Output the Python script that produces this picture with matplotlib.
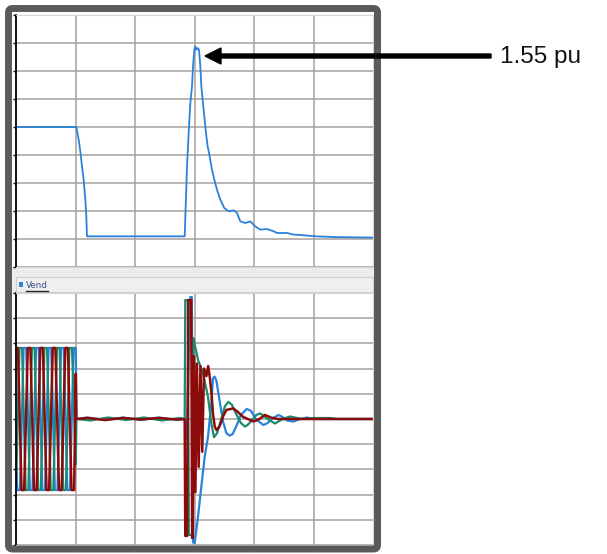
import matplotlib
matplotlib.use("Agg")
import matplotlib.pyplot as plt
from matplotlib.patches import Rectangle, FancyBboxPatch, FancyArrow
from matplotlib.transforms import Affine2D
from matplotlib.lines import Line2D

# ---------------- data ----------------
# Upper panel: RMS voltage (pu) vs time (s)
rms_t = [0.0, 0.1014, 0.1053, 0.1081, 0.1109, 0.1137, 0.1165, 0.1182, 0.1193, 0.2835,
         0.2852, 0.2874, 0.2902, 0.2930, 0.2958, 0.2975, 0.2997, 0.3014, 0.3031, 0.3053,
         0.3076, 0.3098, 0.3115, 0.3137, 0.3165, 0.3193, 0.3221, 0.3255, 0.3294, 0.3333,
         0.3378, 0.3434, 0.3501, 0.3574, 0.3658, 0.3714, 0.3770, 0.3854, 0.3938, 0.4022,
         0.4106, 0.4218, 0.4331, 0.4387, 0.4555, 0.4667, 0.4779, 0.4891, 0.5059, 0.5339, 0.6011]
rms_v = [1.0, 1.0, 0.91, 0.826, 0.719, 0.624, 0.481, 0.362, 0.219, 0.219,
         0.433, 0.719, 0.957, 1.171, 1.29, 1.433, 1.552, 1.576, 1.552, 1.564,
         1.552, 1.433, 1.29, 1.195, 1.076, 0.957, 0.862, 0.790, 0.695, 0.624,
         0.552, 0.481, 0.421, 0.398, 0.405, 0.386, 0.326, 0.314, 0.326, 0.290,
         0.267, 0.271, 0.255, 0.243, 0.243, 0.231, 0.229, 0.224, 0.219, 0.214, 0.210]

# Lower panel: instantaneous phase voltages "Vend" (pu)
blue_t = [0.0, 0.0023, 0.0067, 0.0128, 0.0172, 0.0233, 0.0277, 0.0338, 0.0382, 0.0443,
          0.0487, 0.0548, 0.0592, 0.0653, 0.0697, 0.0758, 0.0802, 0.0863, 0.0907, 0.0968,
          0.1005, 0.1015, 0.12, 0.15, 0.18, 0.21, 0.24, 0.27, 0.2835,
          0.2870, 0.2930, 0.2955, 0.2975, 0.3003, 0.3059, 0.3115, 0.3171, 0.3227, 0.3283,
          0.3311, 0.3340, 0.3370, 0.3423, 0.3480, 0.3535, 0.3590, 0.3640, 0.3700, 0.3780,
          0.3877, 0.3950, 0.4030, 0.4157, 0.4230, 0.4300, 0.4409, 0.4480, 0.4560, 0.4660,
          0.4780, 0.4890, 0.5000, 0.5110, 0.6]
blue_v = [-0.9, -1.41, -1.41, 1.41, 1.41, -1.41, -1.41, 1.41, 1.41, -1.41,
          -1.41, 1.41, 1.41, -1.41, -1.41, 1.41, 1.41, -1.41, -1.41, 1.41,
          1.41, 0.0, 0.03, -0.02, 0.03, -0.02, 0.03, -0.02, 0.0,
          -0.4, 2.42, 2.42, -2.45, -2.46, -1.94, -1.34, -0.75, -0.35, 0.31,
          0.81, 0.84, 0.75, 0.35, -0.05, -0.28, -0.33, -0.30, -0.15, 0.08,
          0.20, 0.16, 0.0, -0.12, -0.08, 0.0, 0.08, 0.04, -0.03, -0.05,
          0.0, 0.03, 0.0, 0.0, 0.0]

teal_t = [0.0, 0.0058, 0.0102, 0.0163, 0.0207, 0.0268, 0.0312, 0.0373, 0.0417, 0.0478,
          0.0522, 0.0583, 0.0627, 0.0688, 0.0732, 0.0793, 0.0837, 0.0898, 0.0942, 0.1005,
          0.1015, 0.125, 0.155, 0.185, 0.215, 0.245, 0.275, 0.2835,
          0.2845, 0.2890, 0.2905, 0.2960, 0.2985, 0.3010, 0.3059, 0.3143, 0.3227, 0.3283,
          0.3328, 0.3380, 0.3450, 0.3510, 0.3569, 0.3630, 0.3700, 0.3780, 0.3849, 0.3910,
          0.3980, 0.4040, 0.4101, 0.4170, 0.4230, 0.4353, 0.4480, 0.4605, 0.4800, 0.5000,
          0.5280, 0.5400, 0.6]
teal_v = [-1.41, 1.41, 1.41, -1.41, -1.41, 1.41, 1.41, -1.41, -1.41, 1.41,
          1.41, -1.41, -1.41, 1.41, 1.41, -1.41, -1.41, 1.41, 1.41, -0.9,
          0.0, -0.03, 0.03, -0.02, 0.03, -0.03, 0.02, 0.0,
          2.36, 2.36, -2.3, -2.3, 1.6, 1.45, 1.17, 0.91, 0.44, -0.09,
          -0.36, -0.28, 0.0, 0.25, 0.34, 0.28, 0.10, -0.08, -0.15, -0.10,
          0.0, 0.08, 0.11, 0.06, 0.0, -0.09, 0.0, 0.05, 0.0, 0.02,
          0.02, 0.0, 0.0]

red_t = [0.0, 0.0032, 0.0093, 0.0137, 0.0198, 0.0242, 0.0303, 0.0347, 0.0408, 0.0452,
         0.0513, 0.0557, 0.0618, 0.0662, 0.0723, 0.0767, 0.0828, 0.0872, 0.0933, 0.0977,
         0.1005, 0.1015, 0.12, 0.15, 0.18, 0.21, 0.24, 0.27, 0.2835,
         0.2845, 0.2875, 0.2895, 0.2945, 0.2960, 0.2970, 0.2990, 0.3015, 0.3040, 0.3070,
         0.3100, 0.3130, 0.3160, 0.3200, 0.3230, 0.3260, 0.3290, 0.3310, 0.3340, 0.3370,
         0.3420, 0.3480, 0.3535, 0.3650, 0.3720, 0.3820, 0.3990, 0.4090, 0.4185, 0.4280,
         0.4400, 0.6]
red_v = [1.41, 1.41, -1.41, -1.41, 1.41, 1.41, -1.41, -1.41, 1.41, 1.41,
         -1.41, -1.41, 1.41, 1.41, -1.41, -1.41, 1.41, 1.41, -1.41, -1.41,
         0.9, 0.0, 0.02, -0.02, 0.02, -0.01, 0.02, -0.01, 0.0,
         -2.32, -2.32, 2.36, 2.36, -2.36, -2.36, 1.25, -1.45, 1.1, -0.95,
         1.05, -0.65, 1.0, 0.85, 1.05, 0.8, 0.45, 0.11, -0.15, -0.22,
         -0.15, 0.05, 0.18, 0.21, 0.15, 0.04, -0.05, 0.0, 0.08, 0.03,
         0.0, 0.0]

peak_label = "1.55 pu"
legend_label = "Vend"

# ---------------- figure ----------------
W, H = 607, 554
fig = plt.figure(figsize=(W / 100, H / 100), dpi=100)
fig.patch.set_facecolor("white")
PX = Affine2D().scale(1.0 / W, -1.0 / H).translate(0, 1) + fig.transFigure


def axes_px(x0, y0, x1, y1):
    return fig.add_axes([x0 / W, 1 - y1 / H, (x1 - x0) / W, (y1 - y0) / H])


GRID = "#a7a19b"
BLUE = "#2a82dc"
TEAL = "#1b8a6e"
RED = "#8b0a0a"

# separator band between panels
fig.add_artist(Rectangle((12, 267), 362, 26, transform=PX, facecolor="#ececec",
                         edgecolor="none", zorder=0))
fig.add_artist(Rectangle((16, 277), 357, 15, transform=PX, facecolor="#efefef",
                         edgecolor="#cfcfcf", lw=0.8, zorder=1))
fig.add_artist(Rectangle((18.5, 282), 4.5, 5, transform=PX, facecolor=BLUE,
                         edgecolor="none", zorder=2))
fig.text(26 / W, 1 - 285 / H, legend_label, fontsize=6.3, color="#3a4f8f",
         va="center", ha="left", family="DejaVu Sans")
fig.add_artist(Line2D([26, 48], [290.5, 290.5], transform=PX, color="#222222", lw=1.0))


def style_axes(ax, ylo, yhi, ystep, nrows):
    ax.set_xlim(0, 0.6)
    ax.set_ylim(ylo, yhi)
    ax.set_xticks([0.1 * i for i in range(1, 6)])
    ax.set_yticks([ylo + ystep * i for i in range(0, nrows + 1)])
    ax.grid(True, color=GRID, lw=1.1)
    ax.set_axisbelow(True)
    ax.tick_params(axis="x", length=0, labelbottom=False)
    ax.tick_params(axis="y", direction="out", length=2.5, width=1.0, color="black",
                   labelleft=False)
    ax.spines["left"].set_color("black")
    ax.spines["left"].set_linewidth(1.3)
    for s in ("top", "bottom", "right"):
        ax.spines[s].set_color("#d6d6d6")
        ax.spines[s].set_linewidth(0.8)


# upper panel
ax1 = axes_px(16, 15, 373, 267)
style_axes(ax1, 0.0, 1.8, 0.2, 9)
ax1.plot(rms_t, rms_v, color=BLUE, lw=1.3)

# lower panel
ax2 = axes_px(16, 293, 373, 545)
style_axes(ax2, -2.5, 2.5, 0.5, 10)
ax2.plot(blue_t, blue_v, color=BLUE, lw=1.6)
ax2.plot(teal_t, teal_v, color=TEAL, lw=1.6)
ax2.plot(red_t, red_v, color=RED, lw=1.8)

# outer frame
fig.add_artist(FancyBboxPatch((8.5, 8.5), 369, 540.5, boxstyle="round,pad=0,rounding_size=4",
                              transform=PX, facecolor="none", edgecolor="#5a5a5a",
                              lw=5.0, zorder=10))

# annotation arrow and text
fig.add_artist(FancyArrow(491, 56, -286, 0, width=4, head_width=16, head_length=16,
                          length_includes_head=True, color="black", transform=PX, zorder=11))
fig.text(500 / W, 1 - 57 / H, peak_label, fontsize=17.5, family="Liberation Sans",
         va="center", ha="left", color="#111111")

fig.savefig("out.png", dpi=100)
